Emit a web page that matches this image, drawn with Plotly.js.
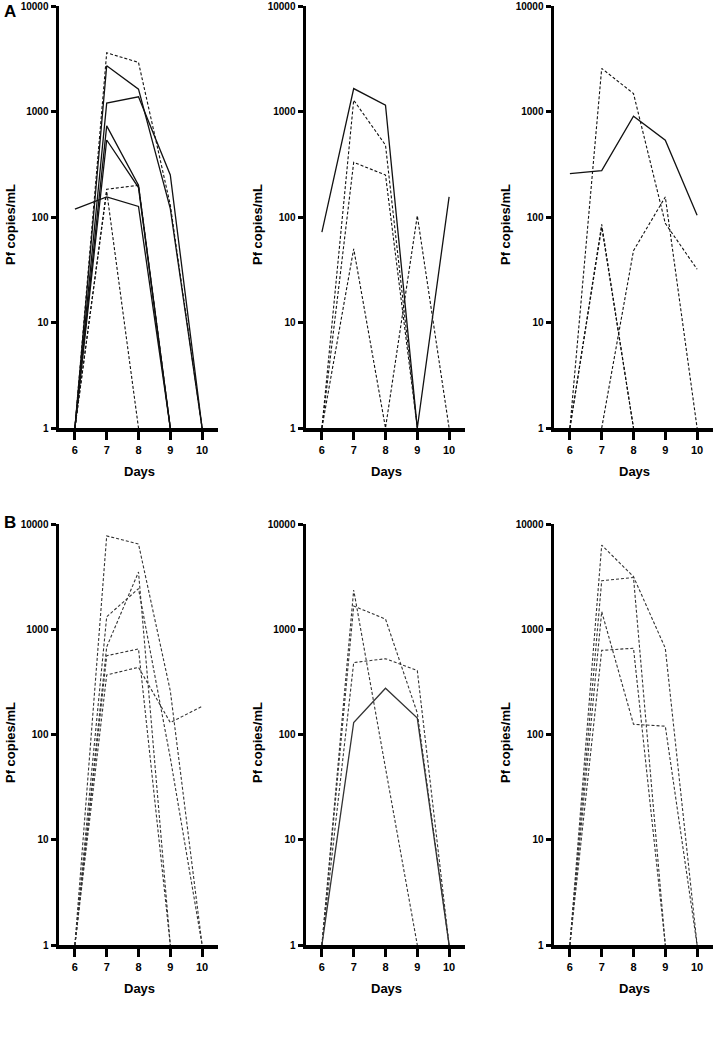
<!DOCTYPE html>
<html>
<head>
<meta charset="utf-8">
<script src="https://cdn.plot.ly/plotly-3.0.1.min.js"></script>
<style>
  body { margin: 0; background: #fff; }
  #chart { width: 717px; height: 1048px; }
</style>
</head>
<body>
<div id="chart"></div>
<script>
// days sampled
var days = [6, 7, 8, 9, 10];
var yTicks = [1, 10, 100, 1000, 10000];
var yTickText = ["1", "10", "100", "1000", "10000"];

// panel A, left (Pf copies/mL per subject, null = not drawn)
var a1Series = [
  [1, 3600, 2920, 130, 1],
  [1, 2715, 1630, 120, 1],
  [1, 1200, 1380, 250, 1],
  [1, 730, 200, 1, null],
  [1, 537, 190, 1, null],
  [1, 183, 200, 1, null],
  [119, 155, 126, 1, null],
  [1, 175, 1, null, null]
];
var a1Dash = ["dash", "solid", "solid", "solid", "solid", "dash", "solid", "dash"];

// panel A, middle
var a2Series = [
  [72, 1650, 1150, 1, 155],
  [1, 1280, 480, 1, null],
  [1, 330, 250, 1, null],
  [1, 50, 1, 103, 1]
];
var a2Dash = ["solid", "dash", "dash", "dash"];

// panel A, right
var a3Series = [
  [258, 275, 903, 535, 104],
  [1, 2560, 1480, 87, 32],
  [1, 85, 1, null, null],
  [1, 80, 1, null, null],
  [null, 1, 48, 155, 1]
];
var a3Dash = ["solid", "dash", "dash", "dash", "dash"];

// panel B, left
var b1Series = [
  [1, 7700, 6460, 260, 1],
  [1, 1315, 2430, 60, 1],
  [1, 680, 3500, 1, null],
  [1, 560, 650, 1, null],
  [1, 368, 435, 130, 185]
];
var b1Dash = ["dash", "dash", "dash", "dash", "dash"];

// panel B, middle
var b2Series = [
  [1, 2360, 48, 1, null],
  [1, 1660, 1250, 160, 1],
  [1, 482, 525, 405, 1],
  [1, 130, 275, 143, 1]
];
var b2Dash = ["dash", "dash", "dash", "solid"];

// panel B, right
var b3Series = [
  [1, 6300, 3160, 660, 1],
  [1, 2890, 3100, 1, null],
  [1, 1470, 125, 120, 1],
  [1, 630, 660, 1, null]
];
var b3Dash = ["dash", "dash", "dash", "dash"];

var W = 717, H = 1048;
var font = "Liberation Sans Narrow, Liberation Sans, Arial, sans-serif";

// pixel boxes of each panel: [left, right, top, bottom]
var panels = [
  {series: a1Series, dash: a1Dash, box: [59, 218, 6, 428], color: "#111"},
  {series: a2Series, dash: a2Dash, box: [306, 465, 6, 428], color: "#111"},
  {series: a3Series, dash: a3Dash, box: [554, 713, 6, 428], color: "#111"},
  {series: b1Series, dash: b1Dash, box: [59, 218, 524, 945], color: "#333"},
  {series: b2Series, dash: b2Dash, box: [306, 465, 524, 945], color: "#333"},
  {series: b3Series, dash: b3Dash, box: [554, 713, 524, 945], color: "#333"}
];

var data = [];
var layout = {
  width: W, height: H,
  margin: {l: 0, r: 0, t: 0, b: 0},
  paper_bgcolor: "#fff", plot_bgcolor: "#fff",
  showlegend: false,
  font: {family: font, color: "#000"},
  annotations: []
};

panels.forEach(function (p, i) {
  var n = i + 1;
  var xa = "xaxis" + (n === 1 ? "" : n), ya = "yaxis" + (n === 1 ? "" : n);
  var xr = "x" + (n === 1 ? "" : n), yr = "y" + (n === 1 ? "" : n);
  p.series.forEach(function (s, k) {
    data.push({
      x: days, y: s, xaxis: xr, yaxis: yr,
      mode: "lines", connectgaps: false, hoverinfo: "skip",
      line: {color: p.color, width: p.dash[k] === "solid" ? 1.3 : 1.1,
             dash: p.dash[k] === "solid" ? "solid" : "3px,2px"}
    });
  });
  var b = p.box;
  layout[xa] = {
    domain: [b[0] / W, b[1] / W], anchor: yr, range: [5.5, 10.5],
    tickvals: days, ticktext: days.map(String),
    showline: true, linewidth: 3.5, linecolor: "#000",
    ticks: "outside", ticklen: 8, tickwidth: 3, tickcolor: "#000",
    ticklabelstandoff: 1,
    showgrid: false, zeroline: false,
    tickfont: {family: font, size: 11, color: "#000", weight: "bold"}
  };
  layout[ya] = {
    domain: [1 - b[3] / H, 1 - b[2] / H], anchor: xr, type: "log", range: [0, 4],
    tickvals: yTicks, ticktext: yTickText,
    showline: true, linewidth: 3.5, linecolor: "#000",
    ticks: "outside", ticklen: 5, tickwidth: 3, tickcolor: "#000",
    showgrid: false, zeroline: false,
    tickfont: {family: font, size: 10, color: "#000", weight: "bold"}
  };
  // axis titles
  layout.annotations.push({
    text: "<b>Days</b>", xref: "paper", yref: "paper", showarrow: false,
    x: (b[0] + 80) / W, y: 1 - (b[3] + 43) / H,
    xanchor: "center", yanchor: "middle",
    font: {family: font, size: 13, color: "#000"}
  });
  layout.annotations.push({
    text: "<b>Pf copies/mL</b>", xref: "paper", yref: "paper", showarrow: false,
    x: (b[0] - 49) / W, y: 1 - (b[2] + 219) / H, textangle: -90,
    xanchor: "center", yanchor: "middle",
    font: {family: font, size: 13, color: "#000"}
  });
});

// panel letters
layout.annotations.push({text: "<b>A</b>", xref: "paper", yref: "paper", showarrow: false,
  x: 10 / W, y: 1 - 12 / H, xanchor: "center", yanchor: "middle",
  font: {family: "Liberation Sans, Arial, sans-serif", size: 17, color: "#000"}});
layout.annotations.push({text: "<b>B</b>", xref: "paper", yref: "paper", showarrow: false,
  x: 10 / W, y: 1 - 522 / H, xanchor: "center", yanchor: "middle",
  font: {family: "Liberation Sans, Arial, sans-serif", size: 17, color: "#000"}});

Plotly.newPlot("chart", data, layout, {staticPlot: true});
</script>
</body>
</html>
